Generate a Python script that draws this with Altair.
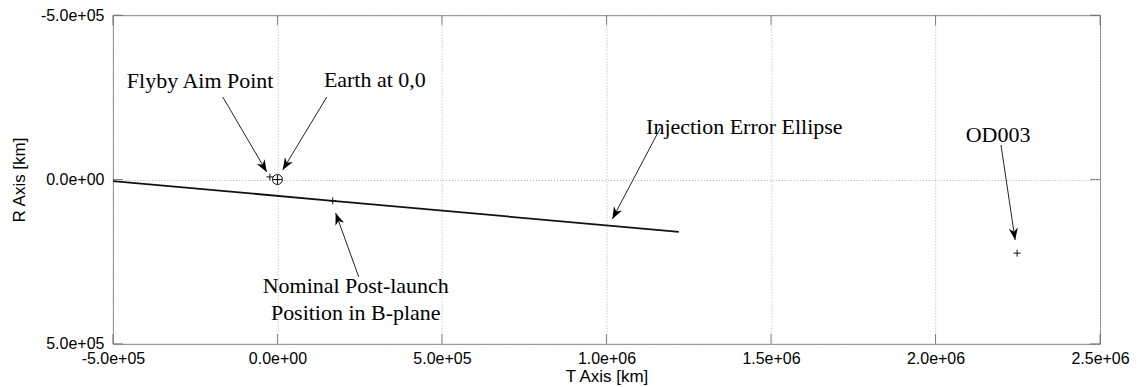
import math
import altair as alt
import pandas as pd

# ---------------- data ----------------
W, H = 988, 329
T_DOMAIN = [-5.0e5, 2.5e6]
R_DOMAIN = [-5.0e5, 5.0e5]

x_ticks = [-5.0e5, 0.0, 5.0e5, 1.0e6, 1.5e6, 2.0e6, 2.5e6]
y_ticks = [-5.0e5, 0.0, 5.0e5]

# injection error ellipse (very thin, appears as a line)
ellipse_T = [-5.0e5, 1.68e5, 1.22e6]
ellipse_R = [4.6e3, 6.5e4, 1.59e5]

# "+" markers: flyby aim point, earth centre, nominal post-launch, OD003
plus_T = [-2.3e4, 0.0, 1.68e5, 2.248e6]
plus_R = [-8.0e3, 0.0, 6.5e4, 2.24e5]
plus_size = [49, 81, 49, 49]

earth_T = [0.0]
earth_R = [0.0]

label_text = ["Flyby Aim Point", "Earth at 0,0", "Injection Error Ellipse", "OD003",
              "Nominal Post-launch", "Position in B-plane"]
label_T = [-2.35e5, 2.96e5, 1.419e6, 2.19e6, 2.38e5, 2.38e5]
label_R = [-2.78e5, -2.81e5, -1.38e5, -1.14e5, 3.45e5, 4.27e5]

arrow_T0 = [-1.66e5, 1.50e5, 1.164e6, 2.199e6, 2.47e5]
arrow_R0 = [-2.51e5, -2.51e5, -1.57e5, -1.05e5, 2.96e5]
arrow_T1 = [-3.25e4, 1.6e4, 1.018e6, 2.242e6, 1.77e5]
arrow_R1 = [-2.28e4, -2.9e4, 1.20e5, 1.84e5, 1.02e5]

# ---------------- tables ----------------
def heading(t0, r0, t1, r1):
    dx = (t1 - t0) * W / (T_DOMAIN[1] - T_DOMAIN[0])
    dy = (r1 - r0) * H / (R_DOMAIN[1] - R_DOMAIN[0])
    return math.degrees(math.atan2(dx, -dy)) % 360

ellipse_df = pd.DataFrame({"T": ellipse_T, "R": ellipse_R, "i": range(len(ellipse_T))})
plus_df = pd.DataFrame({"T": plus_T, "R": plus_R, "s": plus_size})
earth_df = pd.DataFrame({"T": earth_T, "R": earth_R})
label_df = pd.DataFrame({"T": label_T, "R": label_R, "text": label_text})
arrow_df = pd.DataFrame({"T": arrow_T0, "R": arrow_R0, "T2": arrow_T1, "R2": arrow_R1})
head_df = pd.DataFrame({
    "T": arrow_T1, "R": arrow_R1,
    "angle": [heading(a, b, c, d) for a, b, c, d in zip(arrow_T0, arrow_R0, arrow_T1, arrow_R1)],
})
xtick_df = pd.DataFrame({"T": x_ticks})
ytick_df = pd.DataFrame({"R": y_ticks})

# ---------------- encodings ----------------
label_expr = "replace(replace(format(datum.value, '.1e'), 'e+', 'e+0'), '\u2212', '-')"

x_axis = alt.Axis(
    values=x_ticks, labelExpr=label_expr, title="T Axis [km]",
    grid=True, gridDash=[1, 2], gridColor="#b0b0b0", domain=False, ticks=False,
    labelFlush=False, labelFont="Liberation Sans", labelFontSize=16, labelColor="black",
    labelPadding=7, titleFont="Liberation Sans", titleFontSize=17, titleFontWeight="normal",
    titleColor="black", titleX=W / 2, titleY=38, titleBaseline="alphabetic",
)
y_axis = alt.Axis(
    values=y_ticks, labelExpr=label_expr, title="R Axis [km]",
    grid=True, gridDash=[1, 2], gridColor="#b0b0b0", domain=False, ticks=False,
    labelFlush=False, labelFont="Liberation Sans", labelFontSize=16, labelColor="black",
    labelPadding=9, titleFont="Liberation Sans", titleFontSize=17, titleFontWeight="normal",
    titleColor="black", titleX=-88, titleY=H / 2, titleBaseline="alphabetic", titleAngle=270,
)
xs = alt.Scale(domain=T_DOMAIN, nice=False, zero=False)
ys = alt.Scale(domain=R_DOMAIN, reverse=True, nice=False, zero=False)

X = alt.X("T:Q", scale=xs, axis=x_axis)
Y = alt.Y("R:Q", scale=ys, axis=y_axis)

ellipse = alt.Chart(ellipse_df).mark_line(color="#111", strokeWidth=1.8, clip=True).encode(
    x=X, y=Y, order="i:Q")

plus_shape = "M-1,0L1,0M0,-1L0,1"
pluses = alt.Chart(plus_df).mark_point(shape=plus_shape, filled=False, color="#111",
                                       strokeWidth=1, opacity=1).encode(
    x=X, y=Y, size=alt.Size("s:Q", scale=None, legend=None))

earth = alt.Chart(earth_df).mark_point(shape="circle", filled=False, color="#111",
                                       strokeWidth=1, size=100, opacity=1).encode(x=X, y=Y)

arrows = alt.Chart(arrow_df).mark_rule(color="#222", strokeWidth=1).encode(
    x=X, y=Y, x2="T2:Q", y2="R2:Q")

head_shape = "M0,0L0.38,1L0,0.7L-0.38,1Z"
heads = alt.Chart(head_df).mark_point(shape=head_shape, filled=True, color="#000",
                                      size=576, opacity=1, strokeWidth=0).encode(
    x=X, y=Y, angle=alt.Angle("angle:Q", scale=None))

labels = alt.Chart(label_df).mark_text(font="Liberation Serif", fontSize=22, color="black",
                                       align="center", baseline="alphabetic").encode(
    x=X, y=Y, text="text:N")

tick_style = dict(color="#555", thickness=1, size=10)
xt_bottom = alt.Chart(xtick_df).mark_tick(**tick_style).encode(x=X, y=alt.value(H - 5))
xt_top = alt.Chart(xtick_df).mark_tick(**tick_style).encode(x=X, y=alt.value(5))
yt_left = alt.Chart(ytick_df).mark_tick(**tick_style).encode(y=Y, x=alt.value(5))
yt_right = alt.Chart(ytick_df).mark_tick(**tick_style).encode(y=Y, x=alt.value(W - 5))

chart = alt.layer(
    xt_bottom, xt_top, yt_left, yt_right,
    ellipse, pluses, earth, arrows, heads, labels,
).properties(
    width=W, height=H,
    autosize=alt.AutoSizeParams(type="none"),
    padding={"left": 105, "top": 7, "right": 30, "bottom": 42},
    background="white",
).configure_view(stroke="#808080", strokeWidth=1)

chart.save("out.html", embed_options={"renderer": "svg", "actions": False})
